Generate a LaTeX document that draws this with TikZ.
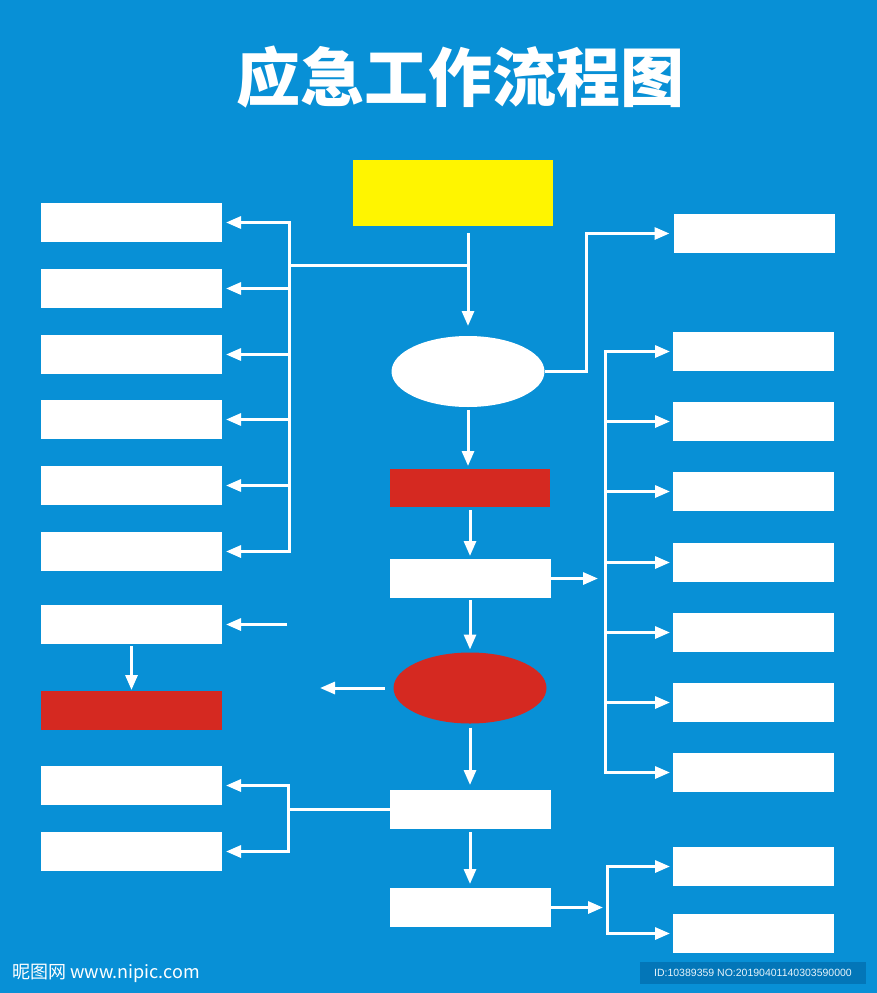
\documentclass[tikz,border=0pt]{standalone}
\usepackage{fontspec}
\setmainfont{Liberation Sans}
\newfontfamily\cjk{Noto Sans CJK SC}
\usetikzlibrary{arrows.meta, positioning, shapes.geometric}
\definecolor{bgblue}{RGB}{8,144,214}
\definecolor{startyellow}{RGB}{255,245,0}
\definecolor{alarmred}{RGB}{213,41,33}
\definecolor{idblue}{RGB}{3,118,184}

\begin{document}
\begin{tikzpicture}[x=1pt, y=-1pt]
\tikzstyle{box}=[rectangle, minimum width = 181pt, minimum height = 39pt, fill = white, inner sep = 0pt, outer sep = 0pt]
\tikzstyle{rbox}=[box, minimum width = 161pt]
\tikzstyle{oval}=[ellipse, minimum width = 153pt, minimum height = 71pt, fill = white, inner sep = 0pt, outer sep = 0pt]
\tikzstyle{wire}=[draw = white, line width = 3pt]
\tikzstyle{connect}=[wire, -{Triangle[length = 15pt, width = 12pt]}]
\fill[bgblue] (0,0) rectangle (877,993);
\useasboundingbox (0,0) rectangle (877,993);
% title
\node[text = white, font = \cjk\bfseries\fontsize{64}{64}\selectfont] (title) at (460,77) {应急工作流程图};
% centre column
\node[box, fill = startyellow, minimum width = 200pt, minimum height = 66pt] (start) at (453,193) {};
\node[oval] (oval1) at (468,371.5) {};
\node[rbox, fill = alarmred, minimum width = 160pt, minimum height = 38pt] (alarm) at (470,488) {};
\node[rbox] (C1) at (470,578.5) {};
\node[oval, fill = alarmred] (oval2) at (470,688) {};
\node[rbox] (C2) at (470,809.5) {};
\node[rbox] (C3) at (470,907.5) {};
% left column
\node[box] (L1) at (131.5,222.5) {};
\node[box] (L2) [below=27pt of L1] {};
\node[box] (L3) [below=27pt of L2] {};
\node[box] (L4) [below=26pt of L3] {};
\node[box] (L5) [below=27pt of L4] {};
\node[box] (L6) [below=27pt of L5] {};
\node[box] (L7) [below=34pt of L6] {};
\node[box, fill = alarmred] (L8) [below=47pt of L7] {};
\node[box] (L9) [below=36pt of L8] {};
\node[box] (L10) [below=27pt of L9] {};
% right column
\node[rbox] (R1) at (754,233.5) {};
\node[rbox] (R2) at (753.5,351.5) {};
\node[rbox] (R3) [below=31pt of R2] {};
\node[rbox] (R4) [below=31pt of R3] {};
\node[rbox] (R5) [below=32pt of R4] {};
\node[rbox] (R6) [below=31pt of R5] {};
\node[rbox] (R7) [below=31pt of R6] {};
\node[rbox] (R8) [below=31pt of R7] {};
\node[rbox] (R9) at (753.5,866.5) {};
\node[rbox] (R10) [below=28pt of R9] {};
% junctions
\coordinate (lbus) at (289,265);
\coordinate (lbus2) at (C2.west -| 288,0);
\coordinate (rjog) at (586,0);
\coordinate (rbus) at (C1.east -| 605,0);
\coordinate (rbus2) at (C3.east -| 607,0);
\coordinate (l7src) at ([xshift=65pt]L7.east);
\coordinate (o2end) at (oval2.west -| 320,0);
% connectors
\draw[connect, shorten <=7pt, shorten >=10pt] (oval1.north |- start.south) -- (oval1.north);
\draw[wire] (lbus) -- (oval1.north |- lbus);
\draw[connect, shorten >=4pt] (lbus |- L4.east) -- (lbus |- L1.east) -- (L1.east);
\draw[connect, shorten >=4pt] (lbus |- L4.east) -- (lbus |- L6.east) -- (L6.east);
\draw[connect, shorten >=4pt] (lbus |- L2.east) -- (L2.east);
\draw[connect, shorten >=4pt] (lbus |- L3.east) -- (L3.east);
\draw[connect, shorten >=4pt] (lbus |- L4.east) -- (L4.east);
\draw[connect, shorten >=4pt] (lbus |- L5.east) -- (L5.east);
\draw[connect, shorten >=4pt] (l7src) -- (L7.east);
\draw[connect, shorten <=2pt, shorten >=1pt] (L7.south) -- (L8.north);
\draw[connect, shorten <=3pt, shorten >=3pt] (oval1.south) -- (oval1.south |- alarm.north);
\draw[connect, shorten <=3pt, shorten >=3pt] (alarm.south) -- (C1.north);
\draw[connect, shorten <=2pt, shorten >=3pt] (C1.south) -- (oval2.north);
\draw[connect, shorten <=9pt] (oval2.west) -- (o2end);
\draw[connect, shorten <=4pt, shorten >=5pt] (oval2.south) -- (C2.north);
\draw[connect, shorten <=3pt, shorten >=4pt] (C2.south) -- (C3.north);
\draw[wire] (C2.west) -- (lbus2);
\draw[connect, shorten >=4pt] (lbus2) -- (lbus2 |- L9.east) -- (L9.east);
\draw[connect, shorten >=4pt] (lbus2) -- (lbus2 |- L10.east) -- (L10.east);
\draw[connect, shorten >=4pt] (oval1.east) -- (oval1.east -| rjog) -- (rjog |- R1.west) -- (R1.west);
\draw[connect, shorten >=7pt] (C1.east) -- (rbus);
\draw[connect, shorten >=3pt] (rbus |- R5.west) -- (rbus |- R2.west) -- (R2.west);
\draw[connect, shorten >=3pt] (rbus |- R5.west) -- (rbus |- R8.west) -- (R8.west);
\draw[connect, shorten >=3pt] (rbus |- R3.west) -- (R3.west);
\draw[connect, shorten >=3pt] (rbus |- R4.west) -- (R4.west);
\draw[connect, shorten >=3pt] (rbus |- R5.west) -- (R5.west);
\draw[connect, shorten >=3pt] (rbus |- R6.west) -- (R6.west);
\draw[connect, shorten >=3pt] (rbus |- R7.west) -- (R7.west);
\draw[connect, shorten >=4pt] (C3.east) -- (rbus2);
\draw[connect, shorten >=3pt] (rbus2) -- (rbus2 |- R9.west) -- (R9.west);
\draw[connect, shorten >=3pt] (rbus2) -- (rbus2 |- R10.west) -- (R10.west);
% watermark
\node[text = white, font = \cjk\fontsize{18}{18}\selectfont, anchor = west, inner sep = 0pt] (mark) at (12,973) {昵图网 www.nipic.com};
\node[fill = idblue, text = white!90!bgblue, font = \fontsize{10.5}{11}\selectfont, minimum width = 226pt, minimum height = 22pt, inner sep = 0pt] (id) at (753,973) {ID:10389359 NO:20190401140303590000};
\end{tikzpicture}
\end{document}
